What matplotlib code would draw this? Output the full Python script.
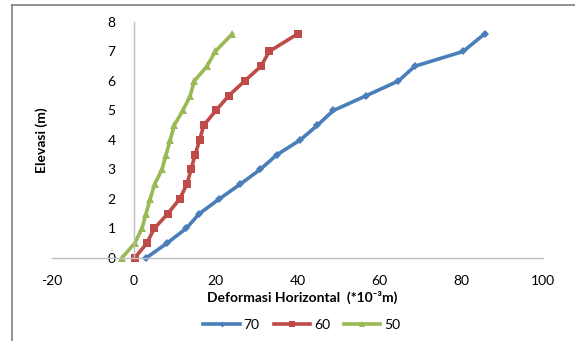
"""Deformasi horizontal vs elevasi, three load cases."""
import matplotlib
matplotlib.use("Agg")
import matplotlib.pyplot as plt
from matplotlib.lines import Line2D

plt.rcParams["font.family"] = ["Lato", "DejaVu Sans"]
plt.rcParams["axes.unicode_minus"] = False

elevasi = [0, 0.5, 1, 1.5, 2, 2.5, 3, 3.5, 4, 4.5, 5, 5.5, 6, 6.5, 7, 7.6]
def_70 = [3.0, 8.1, 12.8, 16.0, 20.9, 26.0, 30.9, 35.0, 40.7, 44.9, 48.8,
          56.8, 64.7, 68.7, 80.5, 85.8]
def_60 = [0.2, 3.2, 5.0, 8.3, 11.2, 13.0, 14.0, 15.0, 16.1, 17.1, 20.1,
          23.2, 27.1, 31.1, 33.1, 40.1]
def_50 = [-2.9, 0.2, 2.0, 3.0, 4.0, 5.1, 6.9, 7.9, 8.9, 9.9, 12.0,
          13.8, 14.8, 17.9, 19.9, 24.1]

series = [
    ("70", def_70, "#4A7EBB", "D", 4),
    ("60", def_60, "#BE4B48", "s", 6),
    ("50", def_50, "#98B954", "^", 6),
]

fig = plt.figure(figsize=(5.75, 3.41), dpi=100)
ax = fig.add_axes([0.0904, 0.2434, 0.8536, 0.6921])

for label, xs, color, marker, ms in series:
    ax.plot(xs, elevasi, color=color, linewidth=2.6, marker=marker,
            markersize=ms, markeredgewidth=0, label=label, clip_on=False)

ax.set_xlim(-20, 100)
ax.set_ylim(0, 8)
ax.set_xticks(range(-20, 101, 20))
ax.set_yticks(range(0, 9))

for side in ("top", "right"):
    ax.spines[side].set_visible(False)
ax.spines["left"].set_position(("data", 0))
for side in ("left", "bottom"):
    ax.spines[side].set_color("#BFBFBF")
    ax.spines[side].set_linewidth(1.0)
ax.tick_params(length=0, labelsize=10, colors="black")
ax.tick_params(axis="y", pad=13)
ax.tick_params(axis="x", pad=12)

fig.text(0.073, 0.59, "Elevasi (m)", rotation=90, ha="center", va="center",
         fontsize=10, fontweight="bold")
fig.text(0.525, 0.128, "Deformasi Horizontal  (*10⁻³m)", ha="center",
         va="center", fontsize=10, fontweight="bold")

handles = [Line2D([], [], color=c, linewidth=2.6, marker=m, markersize=s - 1,
                  markeredgewidth=0) for _, _, c, m, s in series]
fig.legend(handles, [s[0] for s in series], loc="center",
           bbox_to_anchor=(0.525, 0.047), ncol=3, frameon=False,
           fontsize=10, handlelength=2.6, handletextpad=0.3,
           columnspacing=1.0)

# document frame around the chart
fig.add_artist(Line2D([0.02, 0.02], [0, 0.986], color="#7F7F7F",
                      linewidth=1.2, transform=fig.transFigure))
fig.add_artist(Line2D([0.02, 1.0], [0.986, 0.986], color="#7F7F7F",
                      linewidth=1.2, transform=fig.transFigure))

fig.savefig("out.png", dpi=100)
